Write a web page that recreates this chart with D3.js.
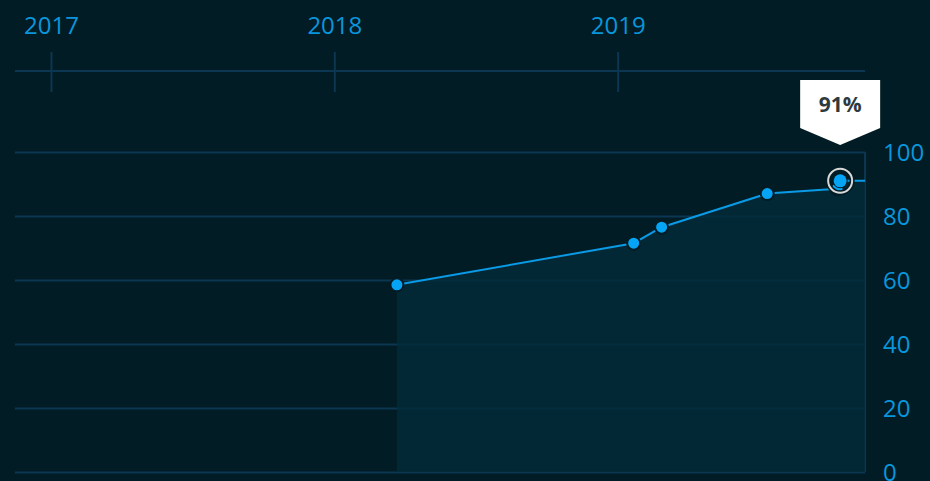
<!DOCTYPE html>
<html>
<head>
<meta charset="utf-8">
<script src="https://cdn.jsdelivr.net/npm/d3@7"></script>
<style>
    html, body { margin: 0; padding: 0; background: #011c24; overflow: hidden; }
    svg { display: block; font-family: "Open Sans", sans-serif; }
</style>
</head>
<body>
<div id="chart"></div>
<script>
// data
const dates = ["2018-03-22", "2019-01-21", "2019-02-26", "2019-07-12", "2019-10-10", "2019-10-14", "2019-11-15"];
const values = [58.5, 71.5, 76.5, 87, 88.5, 91, 91];
const showDot = [true, true, true, true, true, true, false];
const yearTicks = ["2017-01-01", "2018-01-01", "2019-01-01"];
const yTicks = [0, 20, 40, 60, 80, 100];
const hoverIndex = 5;

const parse = d3.utcParse("%Y-%m-%d");
const points = dates.map((d, i) => ({ date: parse(d), value: values[i], dot: showDot[i] }));

//---------------------------SPACE SETUP---------------------------------
const width = 930, height = 481;
const plot = { left: 15, right: 865, top: 152, bottom: 472 };

const x = d3.scaleUtc()
    .domain([parse("2016-11-15"), parse("2019-11-15")])
    .range([plot.left, plot.right]);

const y = d3.scaleLinear()
    .domain([0, 100])
    .range([plot.bottom, plot.top]);

const blue = "#0a96dc";
const grid = "#0b3752";

const svg = d3.select("#chart").append("svg")
    .attr("width", width)
    .attr("height", height);

//---------------------------TOP YEAR AXIS---------------------------------
const yearAxis = svg.append("g");
yearAxis.append("line")
    .attr("x1", plot.left).attr("x2", plot.right)
    .attr("y1", 71).attr("y2", 71)
    .attr("stroke", grid).attr("stroke-width", 2);

const years = yearAxis.selectAll(".year")
    .data(yearTicks.map(parse))
    .enter().append("g")
    .attr("transform", d => `translate(${x(d)},0)`);

years.append("line")
    .attr("y1", 52).attr("y2", 92)
    .attr("stroke", grid).attr("stroke-width", 2);

years.append("text")
    .attr("y", 34)
    .attr("text-anchor", "middle")
    .attr("fill", blue)
    .style("font-size", "24px")
    .text(d => d3.utcFormat("%Y")(d));

//---------------------------Y AXIS + GRID---------------------------------
const yAxis = d3.axisRight(y)
    .tickValues(yTicks)
    .tickSize(-(plot.right - plot.left))
    .tickPadding(18);

svg.append("g")
    .attr("transform", `translate(${plot.right},0)`)
    .call(yAxis)
    .call(g => g.select(".domain").attr("stroke", grid).attr("stroke-width", 2).attr("d", `M0,${plot.top}V${plot.bottom}`))
    .call(g => g.selectAll(".tick line").attr("stroke", grid).attr("stroke-width", 2))
    .call(g => g.selectAll(".tick text")
        .attr("fill", blue)
        .attr("dy", "0.35em")
        .style("font-family", "'Open Sans', sans-serif")
        .style("font-size", "24px"));

//---------------------------AREA + LINE---------------------------------
const area = d3.area()
    .x(d => x(d.date))
    .y0(plot.bottom)
    .y1(d => y(d.value));

svg.append("path")
    .datum(points)
    .attr("d", area)
    .attr("fill", "#022a38")
    .attr("fill-opacity", 0.85);

const line = d3.line()
    .x(d => x(d.date))
    .y(d => y(d.value));

svg.append("path")
    .datum(points)
    .attr("d", line)
    .attr("fill", "none")
    .attr("stroke", "#0a9ae6")
    .attr("stroke-width", 2);

svg.selectAll(".dot")
    .data(points.filter(d => d.dot))
    .enter().append("circle")
    .attr("class", "dot")
    .attr("cx", d => x(d.date))
    .attr("cy", d => y(d.value))
    .attr("r", 6.5)
    .attr("fill", "#05a4f4")
    .attr("stroke", "#011c24")
    .attr("stroke-width", 2);

//---------------------------HOVER MARKER + TIP---------------------------------
const hp = points[hoverIndex];
const hx = x(hp.date), hy = y(hp.value);

svg.append("circle")
    .attr("cx", hx).attr("cy", hy).attr("r", 12)
    .attr("fill", "none")
    .attr("stroke", "#011c24").attr("stroke-width", 5);
svg.append("circle")
    .attr("cx", hx).attr("cy", hy).attr("r", 12)
    .attr("fill", "none")
    .attr("stroke", "#d8d8d8").attr("stroke-width", 2);
svg.append("circle")
    .attr("cx", hx).attr("cy", hy).attr("r", 6.5)
    .attr("fill", "#05a4f4");

const tipW = 80, tipTop = 80, tipBox = 48, tipPoint = 17;
const tx = hx;
svg.append("path")
    .attr("d", `M${tx - tipW / 2},${tipTop}H${tx + tipW / 2}V${tipTop + tipBox}L${tx},${tipTop + tipBox + tipPoint}L${tx - tipW / 2},${tipTop + tipBox}Z`)
    .attr("fill", "#ffffff");

svg.append("text")
    .attr("x", tx)
    .attr("y", tipTop + 32)
    .attr("text-anchor", "middle")
    .attr("fill", "#2e3a40")
    .style("font-size", "21px")
    .style("font-weight", "bold")
    .text(`${hp.value}%`);
</script>
</body>
</html>
